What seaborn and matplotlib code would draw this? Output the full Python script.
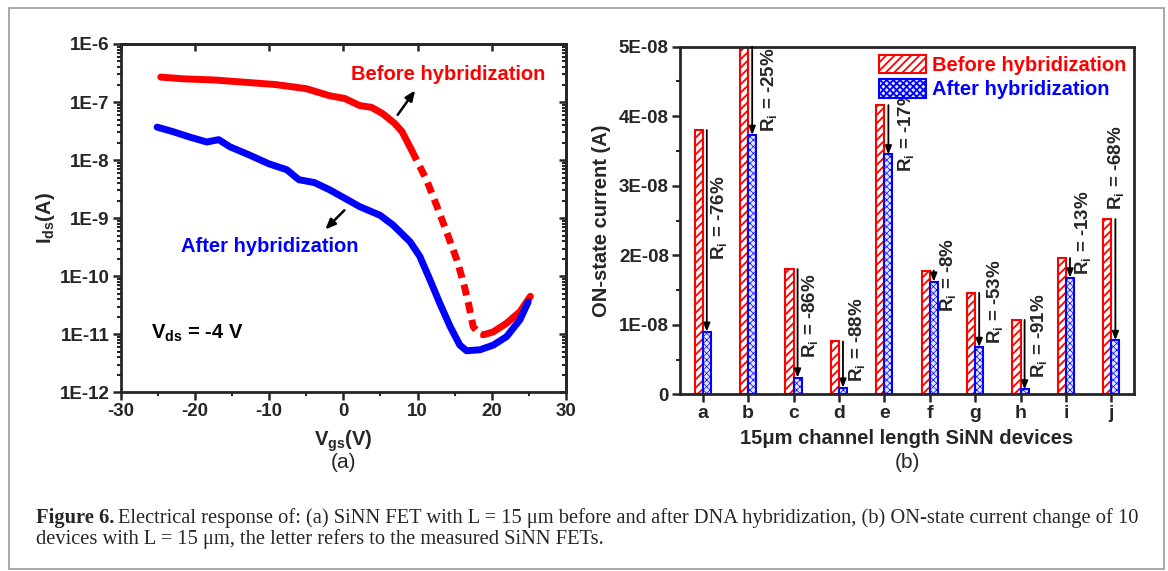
import numpy as np
import pandas as pd
import matplotlib
matplotlib.use('Agg')
import matplotlib.pyplot as plt
import seaborn as sns
from matplotlib.ticker import MultipleLocator, LogLocator, FuncFormatter, NullFormatter
from matplotlib.patches import Rectangle

# (a) transfer curves at Vds = -4 V
vgs_before = [-24.6, -21.5, -17.4, -13.2, -9.1, -5.0, -1.9, 0.2, 2.2, 3.8, 5.3, 6.9, 7.9, 9.2,
              10.1, 11.2, 12.8, 14.15, 15.3, 16.2, 16.85, 17.5, 18.2, 18.9, 20.2, 22.0, 23.8, 25.2]
ids_before = [2.69e-7, 2.51e-7, 2.40e-7, 2.19e-7, 2.0e-7, 1.70e-7, 1.29e-7, 1.15e-7, 8.7e-8, 8.1e-8,
              6.3e-8, 4.3e-8, 3.1e-8, 1.48e-8, 8.7e-9, 4.6e-9, 1.38e-9, 4.8e-10, 1.9e-10, 7.6e-11,
              3.4e-11, 1.35e-11, 1.05e-11, 9.8e-12, 1.1e-11, 1.55e-11, 2.45e-11, 4.5e-11]
vgs_after = [-25.1, -23.0, -20.5, -18.4, -16.8, -15.3, -12.7, -10.1, -7.6, -6.0, -3.9, -1.9, 0.2, 2.2,
             4.95, 6.7, 9.0, 10.3, 11.7, 13.0, 14.4, 15.7, 16.6, 18.4, 20.2, 22.0, 23.8, 24.9]
ids_after = [3.7e-8, 3.1e-8, 2.45e-8, 2.05e-8, 2.25e-8, 1.7e-8, 1.23e-8, 8.7e-9, 6.8e-9, 4.6e-9,
             4.1e-9, 3.1e-9, 2.2e-9, 1.58e-9, 1.12e-9, 7.6e-10, 3.9e-10, 2.2e-10, 8.5e-11, 3.4e-11,
             1.35e-11, 6.5e-12, 5.2e-12, 5.4e-12, 6.5e-12, 9.1e-12, 1.78e-11, 3.6e-11]

# (b) ON-state current of the 10 devices
devices = list('abcdefghij')
on_before = [3.80e-8, 5.00e-8, 1.80e-8, 0.76e-8, 4.16e-8, 1.78e-8, 1.46e-8, 1.07e-8, 1.96e-8, 2.52e-8]
on_after = [0.90e-8, 3.73e-8, 0.24e-8, 0.095e-8, 3.45e-8, 1.62e-8, 0.68e-8, 0.07e-8, 1.68e-8, 0.78e-8]
ri_labels = ['-76%', '-25%', '-86%', '-88%', '-17%', '-8%', '-53%', '-91%', '-13%', '-68%']

# placement of the rotated R_i labels
label_dx = [0.37, 0.46, 0.37, 0.39, 0.48, 0.40, 0.43, 0.40, 0.37, 0.10]
label_y = [1.93e-8, 3.78e-8, 0.52e-8, 0.18e-8, 3.20e-8, 1.19e-8, 0.73e-8, 0.23e-8, 1.72e-8, 2.65e-8]

sns.set_style('ticks')
plt.rcParams['font.family'] = ['Liberation Sans', 'DejaVu Sans']
plt.rcParams['font.weight'] = 'bold'
plt.rcParams['axes.labelweight'] = 'bold'
plt.rcParams['axes.unicode_minus'] = False
plt.rcParams['mathtext.fontset'] = 'custom'
plt.rcParams['mathtext.rm'] = 'Liberation Sans:bold'
plt.rcParams['mathtext.it'] = 'Liberation Sans:bold'
plt.rcParams['mathtext.bf'] = 'Liberation Sans:bold'
plt.rcParams['hatch.linewidth'] = 1.3

W, H = 1168, 571
fig = plt.figure(figsize=(W / 100, H / 100), dpi=100)
ax1 = fig.add_axes([120.7 / W, 1 - 392.3 / H, (566 - 120.7) / W, (392.3 - 44) / H])
ax2 = fig.add_axes([680 / W, 1 - 394.3 / H, 454 / W, 347.6 / H])

# ---- panel (a)
sns.lineplot(x=vgs_before[:14], y=ids_before[:14], color='red', lw=5, estimator=None, ax=ax1)
sns.lineplot(x=vgs_before[13:24], y=ids_before[13:24], color='red', lw=5, estimator=None,
             ax=ax1, linestyle=(0, (1.6, 1.0)))
sns.lineplot(x=vgs_before[23:], y=ids_before[23:], color='red', lw=5, estimator=None, ax=ax1)
sns.lineplot(x=vgs_after, y=ids_after, color='blue', lw=5, estimator=None, ax=ax1)

ax1.set_yscale('log')
ax1.set_ylim(1e-12, 1e-6)
ax1.set_xlim(-30, 30)
ax1.xaxis.set_major_locator(MultipleLocator(10))
ax1.xaxis.set_minor_locator(MultipleLocator(5))
ax1.yaxis.set_major_locator(LogLocator(base=10, numticks=10))
ax1.yaxis.set_minor_locator(LogLocator(base=10, subs=np.arange(2, 10), numticks=20))
ax1.yaxis.set_minor_formatter(NullFormatter())
ax1.yaxis.set_major_formatter(FuncFormatter(lambda v, p: f'1E{int(round(np.log10(v)))}'))
ax1.tick_params(which='major', length=6, width=1.8, labelsize=13.5, pad=2)
ax1.tick_params(which='minor', length=3, width=1.5)
for s in ax1.spines.values():
    s.set_linewidth(2)
sec_x = ax1.secondary_xaxis('top')
sec_x.xaxis.set_major_locator(MultipleLocator(10))
sec_x.tick_params(direction='in', length=5, width=1.8, labeltop=False)
sec_x.spines['top'].set_linewidth(2)
sec_y = ax1.secondary_yaxis('right')
sec_y.tick_params(which='both', direction='in', labelright=False)
sec_y.tick_params(which='major', length=5, width=1.8)
sec_y.tick_params(which='minor', length=3, width=1.5)
sec_y.spines['right'].set_linewidth(2)

ax1.set_xlabel(r'V$_{gs}$(V)', fontsize=14.5, labelpad=6)
ax1.set_ylabel(r'I$_{ds}$(A)', fontsize=14.5, labelpad=2)

ax1.text(14.1, 3.0e-7, 'Before hybridization', color='red', ha='center', va='center', fontsize=14.5)
ax1.text(-9.9, 3.3e-10, 'After hybridization', color='blue', ha='center', va='center', fontsize=14.5)
ax1.text(-19.7, 1.05e-11, r'V$_{ds}$ = -4 V', color='black', ha='center', va='center', fontsize=14.5)
ax1.annotate('', xy=(9.9, 1.74e-7), xytext=(7.1, 5.5e-8),
             arrowprops=dict(arrowstyle='-|>,head_length=0.6,head_width=0.25', color='black', lw=1.8))
ax1.annotate('', xy=(-2.7, 5.9e-10), xytext=(0.4, 1.48e-9),
             arrowprops=dict(arrowstyle='-|>,head_length=0.6,head_width=0.25', color='black', lw=1.8))

# ---- panel (b)
df = pd.DataFrame({
    'device': devices * 2,
    'current': on_before + on_after,
    'state': ['Before hybridization'] * len(devices) + ['After hybridization'] * len(devices),
})
sns.barplot(data=df, x='device', y='current', hue='state',
            hue_order=['Before hybridization', 'After hybridization'],
            palette=['red', 'blue'], width=0.36, saturation=1, legend=False, ax=ax2)

styles = [('red', 'white', '////', 1.3), ('blue', '#e4e7ff', 'xxxxx', 0.5)]
for cont, (ec, fc, hatch, hlw) in zip(ax2.containers, styles):
    for bar in cont:
        bar.set_facecolor(fc)
        bar.set_edgecolor(ec)
        bar.set_hatch(hatch)
        bar.set_linewidth(1.5)
        if hasattr(bar, 'set_hatch_linewidth'):
            bar.set_hatch_linewidth(hlw)
        else:
            bar._hatch_linewidth = hlw

ax2.set_ylim(0, 5e-8)
ax2.set_xlim(-0.5, 9.5)
ax2.yaxis.set_major_locator(MultipleLocator(1e-8))
ax2.yaxis.set_minor_locator(MultipleLocator(5e-9))
ax2.yaxis.set_major_formatter(FuncFormatter(lambda v, p: '0' if abs(v) < 1e-12 else f'{v:.0E}'))
ax2.tick_params(which='major', length=6, width=1.8, labelsize=13.5, pad=2)
ax2.tick_params(which='minor', length=3, width=1.5)
ax2.tick_params(axis='x', labelsize=14)
for s in ax2.spines.values():
    s.set_visible(True)
    s.set_linewidth(2)
ax2.set_xlabel('15μm channel length SiNN devices', fontsize=14.5, labelpad=5)
ax2.set_ylabel('ON-state current (A)', fontsize=14.5, labelpad=6)

for i, d in enumerate(devices):
    x = i + 0.09
    ax2.annotate('', xy=(x, on_after[i]), xytext=(x, min(on_before[i], 5e-8)),
                 arrowprops=dict(arrowstyle='-|>,head_length=0.5,head_width=0.2', color='black',
                                 lw=1.3, shrinkA=0, shrinkB=0))
    ax2.text(i + label_dx[i], label_y[i], rf'R$_i$ = {ri_labels[i]}', rotation=90,
             ha='center', va='bottom', fontsize=13.5)

leg = ax2.legend(handles=[ax2.containers[0][0], ax2.containers[1][0]],
                 labels=['Before hybridization', 'After hybridization'],
                 loc='upper right', frameon=False, fontsize=14.5, handlelength=2.3, handleheight=1.05,
                 handletextpad=0.3, labelspacing=0.2, borderpad=0.2, borderaxespad=0.2)
for t, c in zip(leg.get_texts(), ['red', 'blue']):
    t.set_color(c)

# panel tags
fig.text((120.7 + 566) / 2 / W, 1 - 462 / H, '(a)', ha='center', va='center', fontsize=15, fontweight='normal')
fig.text((680 + 1134) / 2 / W, 1 - 463 / H, '(b)', ha='center', va='center', fontsize=15, fontweight='normal')

# caption
cap_font = ['Liberation Serif', 'DejaVu Serif']
cap_size = 14.8
t0 = fig.text(36 / W, 1 - 518 / H, 'Figure 6.', ha='left', va='center', fontsize=cap_size,
              family=cap_font, fontweight='bold')
fig.canvas.draw()
bb = t0.get_window_extent()
fig.text((bb.x1 + 4) / W, 1 - 518 / H,
         'Electrical response of: (a) SiNN FET with L = 15 μm before and after DNA hybridization, '
         '(b) ON-state current change of 10',
         ha='left', va='center', fontsize=cap_size, family=cap_font, fontweight='normal')
fig.text(36 / W, 1 - 539 / H, 'devices with L = 15 μm, the letter refers to the measured SiNN FETs.',
         ha='left', va='center', fontsize=cap_size, family=cap_font, fontweight='normal')

fig.add_artist(Rectangle((9 / W, 1 - 569 / H), (1164 - 9) / W, (569 - 8) / H, transform=fig.transFigure,
                         fill=False, edgecolor='#9a9a9a', lw=1.2))

fig.savefig('out.png', dpi=100)
